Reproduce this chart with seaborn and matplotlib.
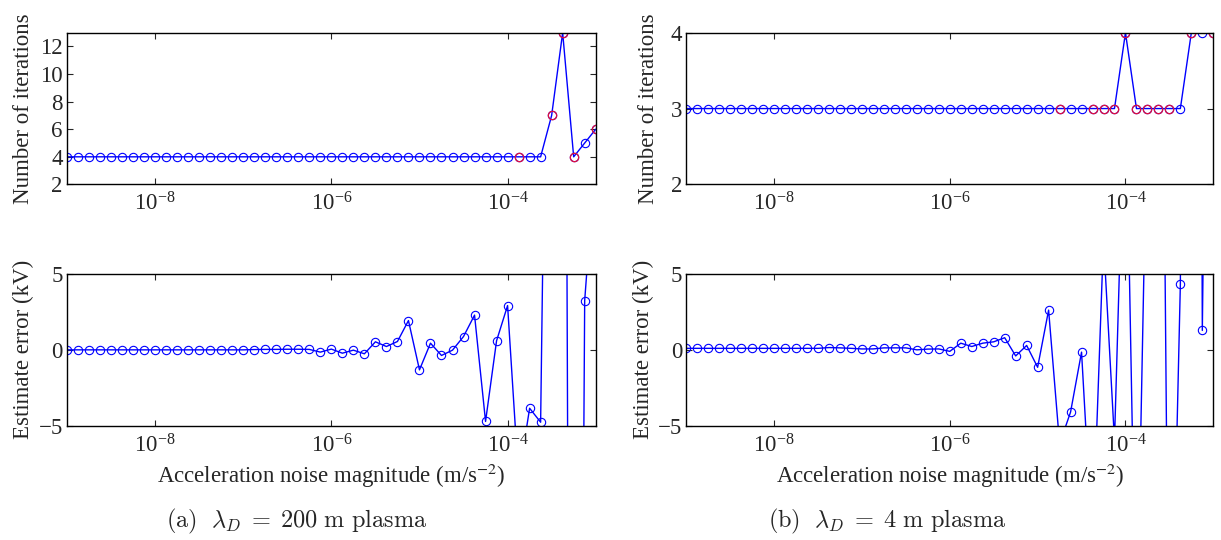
import numpy as np
import matplotlib
matplotlib.use("Agg")
import matplotlib.pyplot as plt
import seaborn as sns
from matplotlib.ticker import FixedLocator, NullLocator, LogFormatterMathtext

# ---------------- data ----------------
exponents = [-9.0, -8.875, -8.75, -8.625, -8.5, -8.375, -8.25, -8.125,
             -8.0, -7.875, -7.75, -7.625, -7.5, -7.375, -7.25, -7.125,
             -7.0, -6.875, -6.75, -6.625, -6.5, -6.375, -6.25, -6.125,
             -6.0, -5.875, -5.75, -5.625, -5.5, -5.375, -5.25, -5.125,
             -5.0, -4.875, -4.75, -4.625, -4.5, -4.375, -4.25, -4.125,
             -4.0, -3.875, -3.75, -3.625, -3.5, -3.375, -3.25, -3.125, -3.0]

iters_a = [4, 4, 4, 4, 4, 4, 4, 4, 4, 4, 4, 4, 4, 4, 4, 4,
           4, 4, 4, 4, 4, 4, 4, 4, 4, 4, 4, 4, 4, 4, 4, 4,
           4, 4, 4, 4, 4, 4, 4, 4, 4, 4, 4, 4, 7, 13, 4, 5, 6]
iters_b = [3, 3, 3, 3, 3, 3, 3, 3, 3, 3, 3, 3, 3, 3, 3, 3,
           3, 3, 3, 3, 3, 3, 3, 3, 3, 3, 3, 3, 3, 3, 3, 3,
           3, 3, 3, 3, 3, 3, 3, 3, 4, 3, 3, 3, 3, 3, 4, 4, 4]
red_a = [41, 44, 45, 46, 48]
red_b = [34, 37, 38, 39, 40, 41, 42, 43, 44, 46, 48]

err_a = [0.0, 0.0, 0.0, 0.0, 0.0, 0.0, 0.0, 0.0, 0.0, 0.0, 0.0, 0.0,
         0.0, 0.0, 0.0, 0.0, 0.0, 0.02, 0.03, 0.03, 0.04, 0.04, 0.03,
         -0.15, 0.05, -0.22, -0.02, -0.26, 0.53, 0.22, 0.55, 1.93, -1.32,
         0.44, -0.37, -0.02, 0.88, 2.29, -4.72, 0.6, 2.92, -8.5, -3.85,
         -4.77, 50.0, 80.0, -110.0, 3.25, 13.0]
err_b = [0.1, 0.1, 0.1, 0.1, 0.1, 0.1, 0.1, 0.1, 0.1, 0.1, 0.1, 0.1,
         0.1, 0.15, 0.13, 0.1, 0.06, 0.06, 0.13, 0.13, 0.13, 0.0, 0.05,
         0.06, -0.1, 0.44, 0.22, 0.44, 0.53, 0.8, -0.4, 0.29, -1.15,
         2.62, -6.2, -4.1, -0.15, -13.0, 7.3, -6.0, 19.0, -20.0, 17.0,
         55.0, -27.0, 4.34, 200.0, 1.28, 63.0]

xlabel = "Acceleration noise magnitude (m/s$^{-2}$)"
captions = [r"$\mathrm{(a)}\ \ \lambda_D\;=\;200\ \mathrm{m\ plasma}$",
            r"$\mathrm{(b)}\ \ \lambda_D\;=\;4\ \mathrm{m\ plasma}$"]

# ---------------- style ----------------
sns.set_style("ticks")
plt.rcParams["font.family"] = ["Liberation Serif", "DejaVu Serif"]
plt.rcParams["mathtext.fontset"] = "stix"
plt.rcParams["axes.linewidth"] = 1.0

BLUE = "#0000ff"
RED = "#e0103c"
FS = 16.5
CFS = 17.5

fig = plt.figure(figsize=(12.21, 5.40), dpi=100)

lefts = [67 / 1221, 686.3 / 1221]
widths = [528.7 / 1221, 527 / 1221]
H = 151.7 / 540
bottoms = [1 - 184.4 / 540, 1 - 425.7 / 540]

x = [10.0 ** e for e in exponents]


def style_axis(ax, ylim, yticks):
    ax.set_xscale("log")
    ax.set_xlim(1e-9, 1e-3)
    ax.xaxis.set_major_locator(FixedLocator([1e-8, 1e-6, 1e-4]))
    ax.xaxis.set_major_formatter(LogFormatterMathtext())
    ax.xaxis.set_minor_locator(NullLocator())
    ax.set_ylim(*ylim)
    ax.set_yticks(yticks)
    ax.tick_params(direction="in", top=True, right=True, length=4,
                   width=0.8, labelsize=FS, pad=3)
    ax.tick_params(axis="x", pad=6)
    for s in ax.spines.values():
        s.set_linewidth(1.0)
        s.set_color("black")


def draw(ax, y, red_idx=None):
    sns.lineplot(x=x, y=y, ax=ax, color=BLUE, linewidth=1.0, marker="o",
                 markersize=6, markerfacecolor="none",
                 markeredgecolor=BLUE, markeredgewidth=0.8)
    if red_idx:
        xr = [x[i] for i in red_idx]
        yr = [y[i] for i in red_idx]
        sns.lineplot(x=xr, y=yr, ax=ax, color=RED, linestyle="none",
                     marker="o", markersize=6, markerfacecolor="none",
                     markeredgecolor=RED, markeredgewidth=0.9)


data = [(iters_a, red_a, err_a), (iters_b, red_b, err_b)]
ylab_x = [-0.062, -0.062]
for col in range(2):
    it, red, err = data[col]
    ax1 = fig.add_axes([lefts[col], bottoms[0], widths[col], H])
    draw(ax1, it, red)
    if col == 0:
        style_axis(ax1, (2, 13), [2, 4, 6, 8, 10, 12])
    else:
        style_axis(ax1, (2, 4), [2, 3, 4])
    ax1.set_ylabel("Number of iterations", fontsize=FS)
    ax1.yaxis.set_label_coords(ylab_x[col] + (0.01 if col else 0), 0.5)

    ax2 = fig.add_axes([lefts[col], bottoms[1], widths[col], H])
    draw(ax2, err)
    style_axis(ax2, (-5, 5), [-5, 0, 5])
    ax2.set_ylabel("Estimate error (kV)", fontsize=FS)
    ax2.yaxis.set_label_coords(ylab_x[col], 0.5)
    ax2.set_xlabel(xlabel, fontsize=FS, labelpad=3)

fig.text(297 / 1221, 1 - 521 / 540, captions[0], ha="center", va="center",
         fontsize=CFS, math_fontfamily="cm")
fig.text(887 / 1221, 1 - 521 / 540, captions[1], ha="center", va="center",
         fontsize=CFS, math_fontfamily="cm")

fig.savefig("out.png", dpi=100)
